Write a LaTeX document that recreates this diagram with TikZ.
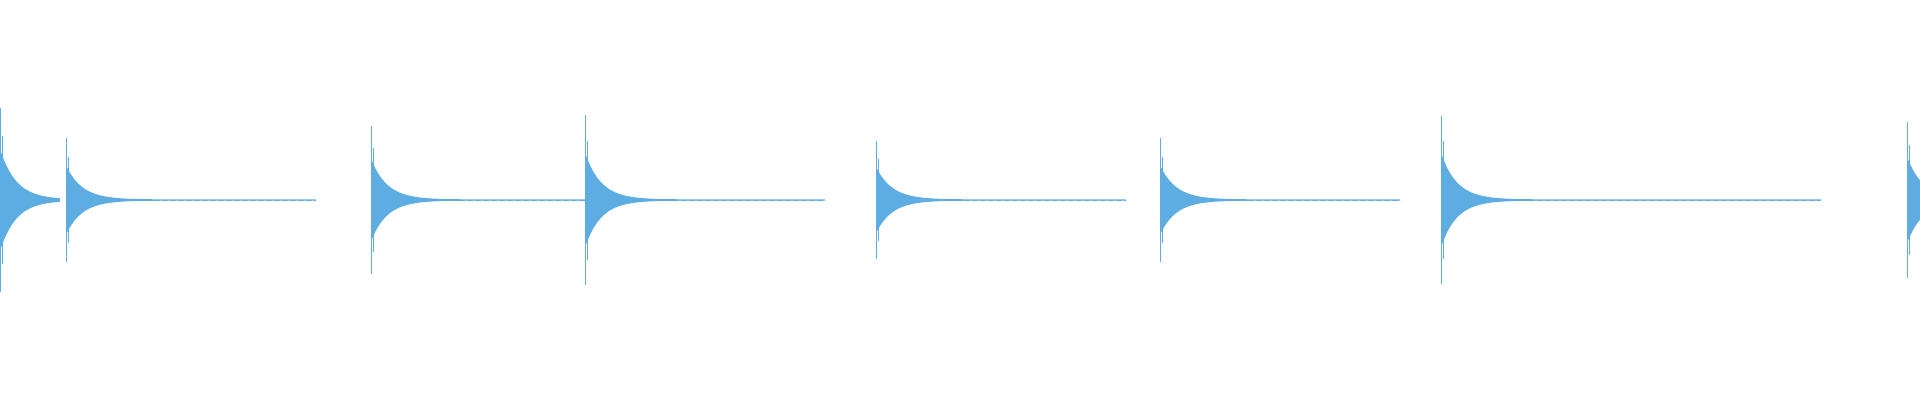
\documentclass[tikz,border=0pt]{standalone}
\usepackage{xcolor}
\usepackage{tikz}

\definecolor{wave}{RGB}{93,173,226}

\begin{document}
\begin{tikzpicture}[x=1pt,y=-1pt]
        \tikzset{
           env/.style={fill=wave,draw=none},
           spike/.style={draw=wave,line width=1.3pt},
           tail/.style={draw=wave,line width=1pt,dash pattern=on 6pt off 2pt}
        }
        \def\ymid{200}

        % frame
        \useasboundingbox (0,0) rectangle (1920,400);

        % hits: position / peak amplitude / tail length
        \foreach \xh/\amp/\len in {0/92/60, 66/62/250, 371/74/230, 585/85/240, 876/59/250, 1160/62/240, 1441/84/380, 1907/78/13}{
            \draw[tail] (\xh,\ymid) -- ++(\len,0);
            \fill[env] plot[domain=0:\len,samples=60,smooth]
                   ({\xh+\x},{\ymid-0.55*\amp*exp(-\x/16)-0.6})
                -- plot[domain=\len:0,samples=60,smooth]
                   ({\xh+\x},{\ymid+0.55*\amp*exp(-\x/16)+0.6}) -- cycle;
            \draw[spike] (\xh+0.7,\ymid-\amp) -- (\xh+0.7,\ymid+\amp);
            \draw[spike] (\xh+2.5,\ymid-0.7*\amp) -- (\xh+2.5,\ymid+0.7*\amp);
        }
    \end{tikzpicture}
\end{document}
